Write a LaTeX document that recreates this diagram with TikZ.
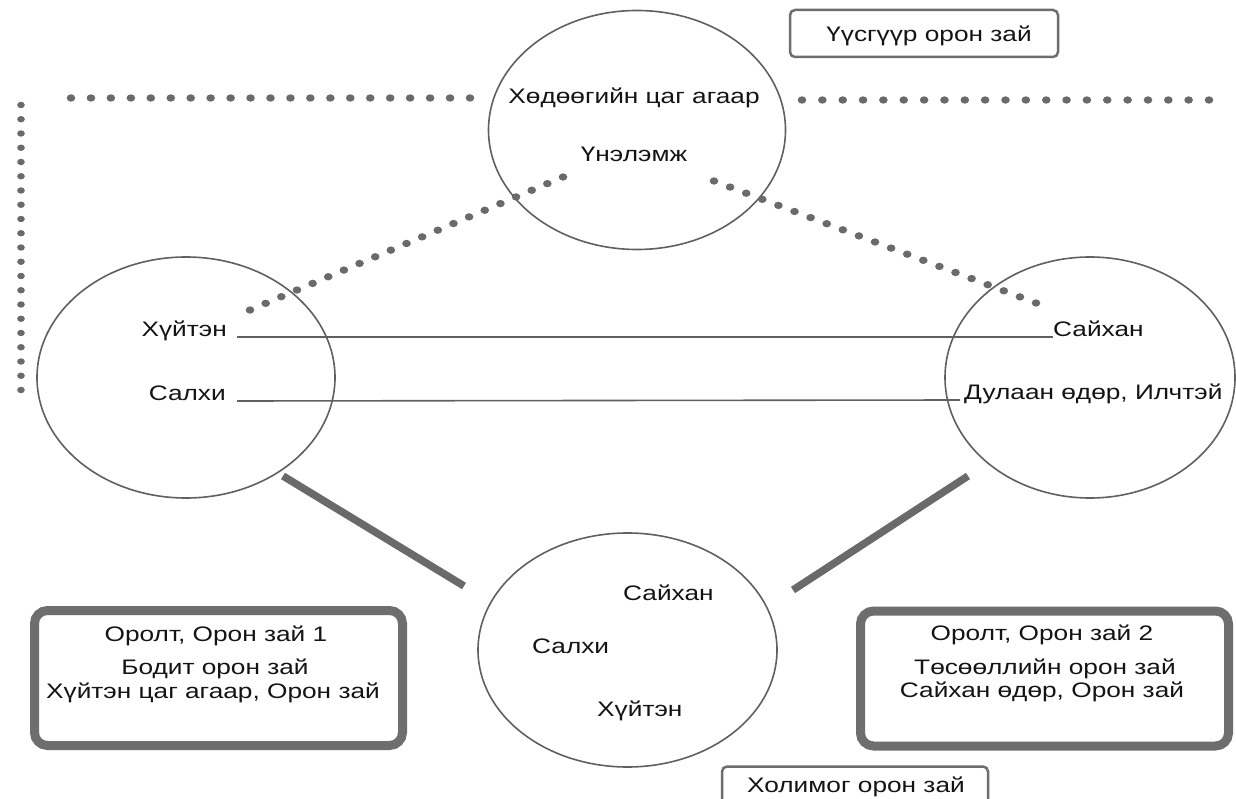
\documentclass[tikz,border=0pt]{standalone}
\usepackage{fontspec}
\setmainfont[FakeStretch=1.25]{Liberation Sans}
\usetikzlibrary{shapes.geometric,calc}
\definecolor{circc}{HTML}{606060}
\definecolor{dotc}{HTML}{6A6A6A}
\definecolor{boxc}{HTML}{6E6E6E}
\definecolor{txtc}{HTML}{141414}
\tikzset{
  bubble/.style={ellipse, draw=circc, line width=1.6pt, inner sep=0pt},
  lbl/.style={font=\fontsize{21}{25}\selectfont, text=txtc, inner sep=0pt},
  thinlink/.style={draw=circc, line width=1.6pt},
  thicklink/.style={draw=dotc, line width=7.5pt},
  bigbox/.style={draw=boxc, line width=9pt, rounded corners=13pt, inner sep=0pt, minimum width=368pt, minimum height=135pt},
  tagbox/.style={draw=boxc, line width=2.5pt, rounded corners=5pt, inner sep=0pt, minimum height=47pt},
  dotdot/.style={fill=dotc}
}
\begin{document}
\begin{tikzpicture}[x=1pt,y=-1pt]
\useasboundingbox (0,0) rectangle (1236,799);
\fill[white] (0,0) rectangle (1236,799);

% circles
\node[bubble, minimum width=297pt, minimum height=239pt] (top) at (637,130) {};
\node[bubble, minimum width=298pt, minimum height=241pt] (left) at (186,377.5) {};
\node[bubble, minimum width=290pt, minimum height=241pt] (right) at (1090,377.5) {};
\node[bubble, minimum width=299pt, minimum height=234pt] (bottom) at (627.5,650) {};

% texts in top circle
\node[lbl, anchor=base] (tq) at (634,104) {Хөдөөгийн цаг агаар};
\node[lbl, anchor=base] (tu) at (634,162) {Үнэлэмж};

% texts in left circle
\node[lbl, anchor=base east] (lk) at (227,337) {Хүйтэн};
\node[lbl, anchor=base east] (ls) at (226,400) {Салхи};

% texts in right circle
\node[lbl, anchor=base west] (rs) at (1053,337) {Сайхан};
\node[lbl, anchor=base west] (rd) at (964,399) {Дулаан өдөр, Илчтэй};

% texts in bottom circle
\node[lbl, anchor=base west] (bs) at (623,600) {Сайхан};
\node[lbl, anchor=base west] (bl) at (532,653) {Салхи};
\node[lbl, anchor=base west] (bk) at (597,716) {Хүйтэн};

% thin links
\draw[thinlink] ([xshift=10pt]lk.base east) -- (rs.base west);
\draw[thinlink] ([xshift=11pt,yshift=-1pt]ls.base east) -- ([xshift=-4pt,yshift=-1pt]rd.base west);

% dotted lines
\coordinate (hl1) at (71,98);   \coordinate (hl2) at (470,98);
\coordinate (hr1) at (802,100); \coordinate (hr2) at (1209,100);
\coordinate (v1) at (21,105);   \coordinate (v2) at (21,390);
\coordinate (dl1) at (563,177); \coordinate (dl2) at (250,310);
\coordinate (dr1) at (714,181); \coordinate (dr2) at (1036,303);
\foreach \a/\b in {hl1/hl2, hr1/hr2, dl1/dl2, dr1/dr2}{
  \foreach \i in {0,...,20}{
    \fill[dotdot] ($(\a)!\i/20!(\b)$) ellipse [x radius=4.3pt, y radius=3.7pt];
  }
}
\foreach \i in {0,...,20}{
  \fill[dotdot] ($(v1)!\i/20!(v2)$) ellipse [x radius=3.8pt, y radius=3.2pt];
}

% thick links
\coordinate (tl1) at (283,476); \coordinate (tl2) at (464,586);
\coordinate (tr1) at (968,476); \coordinate (tr2) at (793,590);
\draw[thicklink] (tl1) -- (tl2);
\draw[thicklink] (tr1) -- (tr2);

% big boxes
\node[bigbox] (box1) at (218.5,678) {};
\node[lbl, anchor=base] (b1a) at (216,641) {Оролт, Орон зай 1};
\node[lbl, anchor=base] (b1b) at (215,674) {Бодит орон зай};
\node[lbl, anchor=base] (b1c) at (213,698) {Хүйтэн цаг агаар, Орон зай};

\node[bigbox] (box2) at (1044.5,678.5) {};
\node[lbl, anchor=base] (b2a) at (1042,640) {Оролт, Орон зай 2};
\node[lbl, anchor=base] (b2b) at (1045,674) {Төсөөллийн орон зай};
\node[lbl, anchor=base] (b2c) at (1042,697) {Сайхан өдөр, Орон зай};

% tag boxes
\node[tagbox, minimum width=268pt] (tag1) at (924,33.5) {};
\node[lbl, anchor=base] (tag1t) at (929,42) {Үүсгүүр орон зай};
\node[tagbox, minimum width=266pt] (tag2) at (855,790) {};
\node[lbl, anchor=base] (tag2t) at (856,792) {Холимог орон зай};
\end{tikzpicture}
\end{document}
